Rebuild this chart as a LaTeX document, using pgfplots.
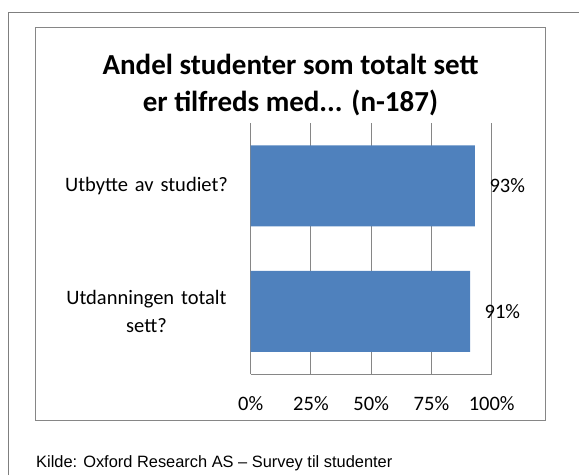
\documentclass[border=0pt]{standalone}
\usepackage{fontspec}
\setmainfont{Carlito}
\newfontfamily\footfont{Liberation Sans}
\usepackage{pgfplots}
\pgfplotsset{compat=1.18}

\definecolor{barblue}{HTML}{4F81BD}
\definecolor{axgray}{HTML}{868686}
\definecolor{framegray}{HTML}{7F7F7F}

\begin{document}
\begin{tikzpicture}[x=1pt,y=1pt]
  \useasboundingbox (0,0) rectangle (579,475);
  % frames
  \draw[framegray, line width=1pt] (8.3,0) -- (8.3,462.7) -- (579,462.7);
  \draw[axgray, line width=1pt] (35.7,54.3) rectangle (545.7,447.3);
  % title
  \node[anchor=base, inner sep=0pt, font=\bfseries\fontsize{29}{34}\selectfont] at (290.5,400) {Andel studenter som totalt sett};
  \node[anchor=base, inner sep=0pt, font=\bfseries\fontsize{29}{34}\selectfont] at (290.5,363.3) {er tilfreds med... (n-187)};

  \begin{axis}[
    at={(250.7pt,101pt)}, anchor=south west,
    scale only axis, width=241pt, height=250.7pt,
    xbar, bar width=0.646,
    xmin=0, xmax=100, ymin=-0.5, ymax=1.5,
    xtick={0,25,50,75,100},
    xticklabels={0\%,25\%,50\%,75\%,100\%},
    ytick={0,1},
    yticklabels={{Utdanningen totalt\\sett?},{Utbytte av studiet?}},
    axis x line*=bottom, axis y line*=left,
    axis line style={-, draw=axgray, line width=1pt},
    major tick length=0pt,
    xmajorgrids, grid style={draw=axgray, line width=0.9pt},
    tick label style={font=\fontsize{20.5}{28.3}\selectfont},
    xticklabel style={anchor=center, inner sep=0pt, yshift=-29.3pt},
    yticklabel style={align=center, text width=172pt, anchor=east, inner sep=0pt, xshift=-18pt},
    /pgf/number format/assume math mode=true,
    nodes near coords={\pgfmathprintnumber{\pgfplotspointmeta}\%},
    every node near coord/.append style={anchor=west, inner sep=0pt, xshift=14.5pt,
      font=\fontsize{20.5}{24}\selectfont, text=black},
  ]
    \addplot[fill=barblue, draw=none] coordinates {(91,0) (93,1)};
  \end{axis}

  % source
  \node[anchor=base west, inner sep=0pt] at (36,7.3) {\footfont\fontsize{16.4}{19}\selectfont Kilde: Oxford Research AS – Survey til studenter};
\end{tikzpicture}
\end{document}
